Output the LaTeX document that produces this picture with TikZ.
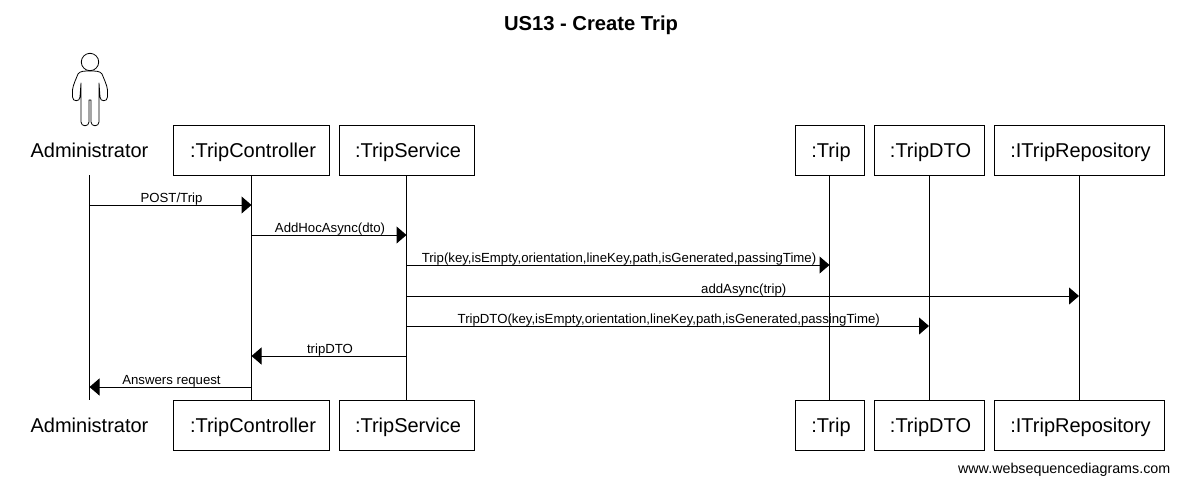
\documentclass[tikz,border=0pt]{standalone}
\usepackage{fontspec}
\setmainfont{Liberation Sans}
\usetikzlibrary{arrows.meta}
\tikzset{
	actorbox/.style={minimum height=50pt, inner sep=0pt, text height=14.4pt, text depth=0.2pt, font=\fontsize{20}{24}\selectfont},
	objbox/.style={actorbox, draw=black, line width=1pt, execute at begin node={\hspace{3pt}}},
	lifeline/.style={draw=black, line width=1pt},
	msg/.style={draw=black, line width=1pt, -{Triangle[length=10pt,width=17pt]}},
	msglabel/.style={above, inner sep=0pt, yshift=-0.5pt, xshift=1pt, text height=10pt, text depth=3pt, font=\fontsize{13.2}{15}\selectfont},
}

\begin{document}
\begin{tikzpicture}[x=1pt, y=-1pt]
		%%%%% START %%%%%
		\useasboundingbox (0, 0) rectangle (1179, 483);

		\node[font=\bfseries\fontsize{20.2}{24}\selectfont] (title) at (591, 25) {US13 - Create Trip};

		\draw[line width=0.8pt] (90, 62) circle (8.7);
		\draw[line width=0.8pt, line join=round] (90, 71) .. controls (96, 71) and (100, 71) .. (102, 74)
			.. controls (104, 79) and (107, 85) .. (107.5, 90) -- (107.5, 97)
			.. controls (107.5, 102) and (100, 102) .. (100, 97) -- (99, 83) -- (99, 122)
			.. controls (99, 127) and (91, 127) .. (91, 122) -- (91, 100) -- (89, 100) -- (89, 122)
			.. controls (89, 127) and (81, 127) .. (81, 122) -- (81, 83) -- (80, 97)
			.. controls (80, 102) and (72.5, 102) .. (72.5, 97) -- (72.5, 90)
			.. controls (73, 85) and (76, 79) .. (78, 74)
			.. controls (80, 71) and (84, 71) .. (90, 71) -- cycle;

		\node[actorbox, minimum width=120pt] (adminTop) at (89.5, 150) {Administrator};
		\node[objbox, minimum width=156pt] (ctrlTop) at (251.5, 150) {:TripController};
		\node[objbox, minimum width=135pt] (servTop) at (406.5, 150) {:TripService};
		\node[objbox, minimum width=69pt] (tripTop) at (829.5, 150) {:Trip};
		\node[objbox, minimum width=110pt] (dtoTop) at (929, 150) {:TripDTO};
		\node[objbox, minimum width=170pt] (repoTop) at (1079, 150) {:ITripRepository};

		\node[actorbox, minimum width=120pt] (adminBot) at (89.5, 425) {Administrator};
		\node[objbox, minimum width=156pt] (ctrlBot) at (251.5, 425) {:TripController};
		\node[objbox, minimum width=135pt] (servBot) at (406.5, 425) {:TripService};
		\node[objbox, minimum width=69pt] (tripBot) at (829.5, 425) {:Trip};
		\node[objbox, minimum width=110pt] (dtoBot) at (929, 425) {:TripDTO};
		\node[objbox, minimum width=170pt] (repoBot) at (1079, 425) {:ITripRepository};

		\draw[lifeline] (adminTop) -- (adminBot);
		\draw[lifeline] (ctrlTop) -- (ctrlBot);
		\draw[lifeline] (servTop) -- (servBot);
		\draw[lifeline] (tripTop) -- (tripBot);
		\draw[lifeline] (dtoTop) -- (dtoBot);
		\draw[lifeline] (repoTop) -- (repoBot);

		\coordinate (post) at (0, 205);
		\coordinate (adhoc) at (0, 235);
		\coordinate (trip) at (0, 265);
		\coordinate (add) at (0, 296);
		\coordinate (dto) at (0, 326);
		\coordinate (back) at (0, 356);
		\coordinate (answer) at (0, 387);

		\draw[msg] (adminTop |- post) -- node[msglabel] {POST/Trip} (ctrlTop |- post);
		\draw[msg] (ctrlTop |- adhoc) -- node[msglabel] {AddHocAsync(dto)} (servTop |- adhoc);
		\draw[msg] (servTop |- trip) -- node[msglabel] {Trip(key,isEmpty,orientation,lineKey,path,isGenerated,passingTime)} (tripTop |- trip);
		\draw[msg] (servTop |- add) -- node[msglabel] {addAsync(trip)} (repoTop |- add);
		\draw[msg] (servTop |- dto) -- node[msglabel] {TripDTO(key,isEmpty,orientation,lineKey,path,isGenerated,passingTime)} (dtoTop |- dto);
		\draw[msg] (servTop |- back) -- node[msglabel] {tripDTO} (ctrlTop |- back);
		\draw[msg] (ctrlTop |- answer) -- node[msglabel] {Answers request} (adminTop |- answer);

		\node[anchor=east, inner sep=0pt, font=\fontsize{14.3}{17}\selectfont] (credit) at (1170.5, 470) {www.websequencediagrams.com};
		%%%%% END %%%%%
	\end{tikzpicture}
\end{document}
